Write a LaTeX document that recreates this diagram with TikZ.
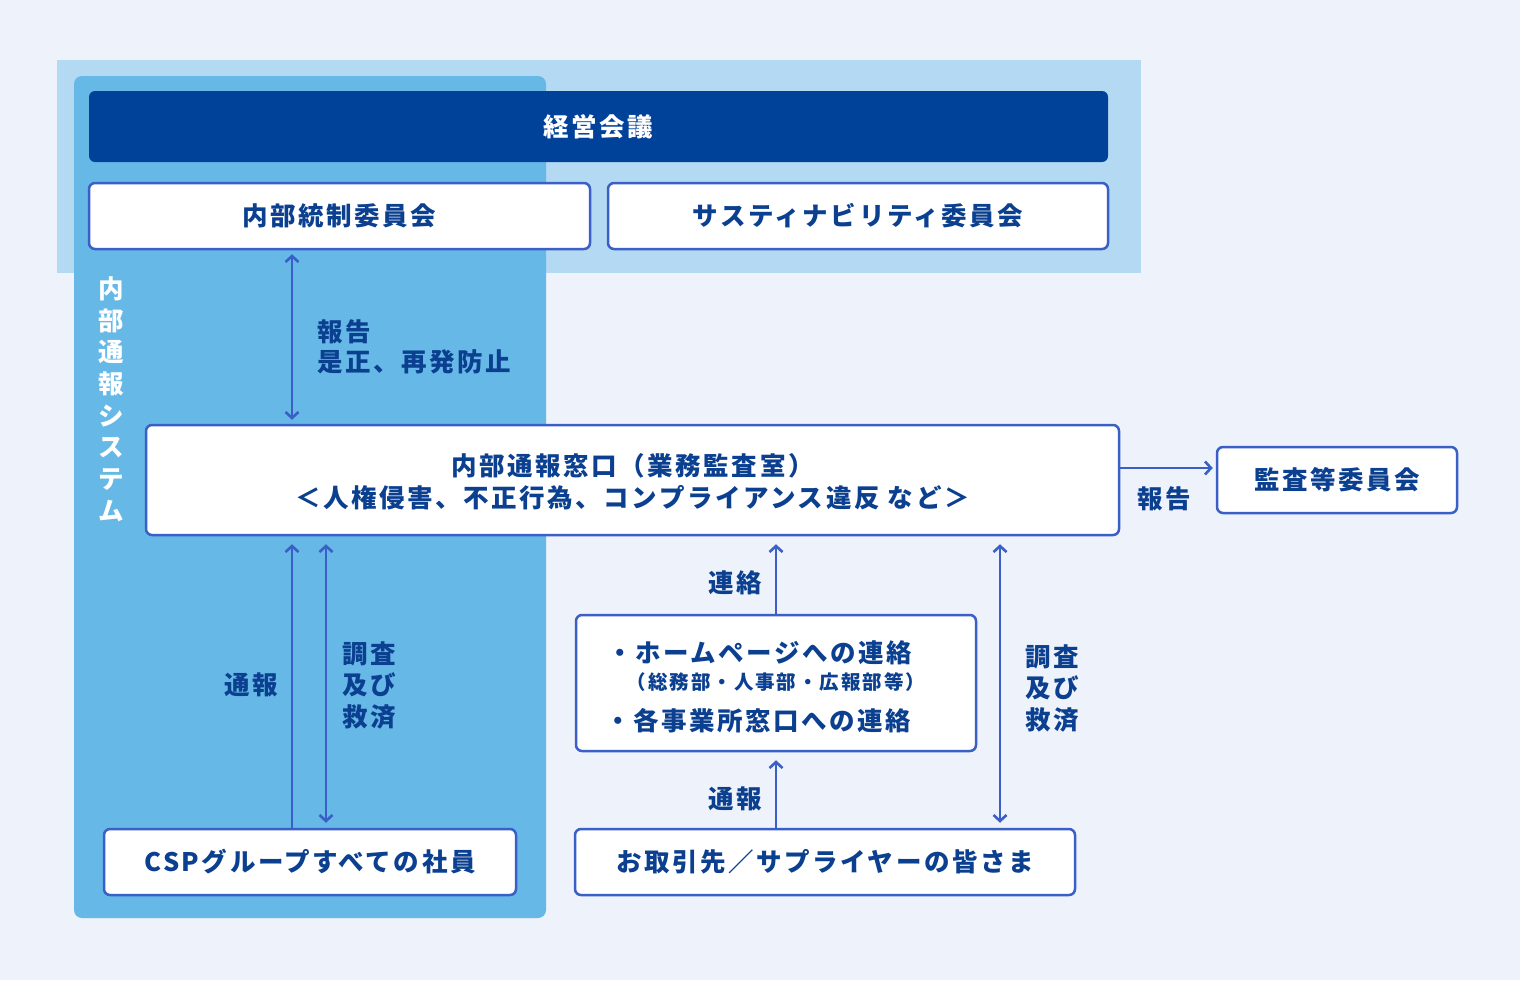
\documentclass[tikz,border=0pt]{standalone}
\usepackage{fontspec}
\setmainfont{Noto Sans CJK JP}[LetterSpace=10]
\usetikzlibrary{arrows.meta}
\definecolor{bgcol}{HTML}{EEF2FA}
\definecolor{bandcol}{HTML}{B4DAF3}
\definecolor{panelcol}{HTML}{66B8E7}
\definecolor{darkcol}{HTML}{00429A}
\definecolor{bordercol}{HTML}{3A5FC6}
\definecolor{txtcol}{HTML}{0B3F8F}
\newcommand{\dn}[1]{\raisebox{-2pt}{#1}}
\tikzset{
  box/.style={draw=bordercol, line width=2.5pt, fill=white, rounded corners=6pt,
    text=txtcol, inner sep=0pt, align=center},
  lbl/.style={text=txtcol, inner sep=0pt, yshift=-2pt},
  arr/.style={draw=bordercol, line width=2.6pt, -{Straight Barb[length=6pt,width=13pt]}},
  darr/.style={draw=bordercol, line width=2.6pt, {Straight Barb[length=6pt,width=13pt]}-{Straight Barb[length=6pt,width=13pt]}},
  big/.style={font=\bfseries\fontsize{25.5}{32}\selectfont},
  small/.style={font=\bfseries\fontsize{19.5}{24}\selectfont}
}
\begin{document}
\begin{tikzpicture}[x=1pt,y=-1pt,big]
\fill[bgcol] (0,0) rectangle (1520,980);
\useasboundingbox (0,0) rectangle (1520,980);
\fill[bandcol] (57,60) rectangle (1141,273);
\fill[panelcol, rounded corners=8pt] (74,76) rectangle (546,918);

\node[box, fill=darkcol, draw=none, text=white, minimum width=1019pt, minimum height=71pt] (keiei) at (598.5,126.5) {\dn{経営会議}};
\node[box, minimum width=501pt, minimum height=66pt] (naibu) at (339.5,216) {\dn{内部統制委員会}};
\node[box, minimum width=500pt, minimum height=66pt] (sasu) at (858,216) {\dn{サスティナビリティ委員会}};
\node[box, minimum width=973pt, minimum height=110pt] (mado) at (632.5,480) {};
\node[lbl, align=center] (madotext) at (632.5,480) {内部通報窓口（業務監査室）\\＜人権侵害、不正行為、コンプライアンス違反 など＞};
\node[box, minimum width=240pt, minimum height=66pt] (kansa) at (1337,480) {\dn{監査等委員会}};
\node[box, minimum width=412pt, minimum height=66pt] (csp) at (310,862) {\dn{CSPグループすべての社員}};
\node[box, minimum width=400pt, minimum height=136pt] (contact) at (776,683) {};
\node[box, minimum width=500pt, minimum height=66pt] (tori) at (825,862) {\dn{お取引先／サプライヤーの皆さま}};

\node[lbl, anchor=west] (c1) at (607,651) {・ホームページへの連絡};
\node[lbl, small] (c2) at (776,680) {（総務部・人事部・広報部等）};
\node[lbl, anchor=west] (c3) at (605,719) {・各事業所窓口への連絡};

\node[text=white, inner sep=0pt, align=center, yshift=-1pt, font=\bfseries\fontsize{25.5}{31.7}\selectfont] (vsys) at (111,398) {内\\部\\通\\報\\シ\\ス\\テ\\ム};

% arrows
\draw[darr] (naibu.south -| 292,0) ++(0,4) -- ([yshift=4pt]mado.north -| 292,0);
\draw[arr] (csp.north -| 292,0) -- ([yshift=-8pt]mado.south -| 292,0);
\draw[darr] ([yshift=-8pt]mado.south -| 326,0) -- ([yshift=5pt]csp.north -| 326,0);
\draw[arr] (contact.north) -- ([yshift=-8pt]mado.south -| 776,0);
\draw[arr] (tori.north -| 776,0) -- ([yshift=-8pt]contact.south);
\draw[darr] ([yshift=-8pt]mado.south -| 1000,0) -- ([yshift=5pt]tori.north -| 1000,0);
\draw[arr] (mado.east |- 0,468) -- ([xshift=-3pt]kansa.west |- 0,468);

% labels
\node[lbl, anchor=west, align=left, font=\bfseries\fontsize{25.5}{30.5}\selectfont] (l1) at (317,345) {報告\\是正、再発防止};
\node[lbl] (l2) at (251,683) {通報};
\node[lbl, anchor=west, align=left, font=\bfseries\fontsize{25.5}{31.5}\selectfont] (l3) at (342,683) {調査\\及び\\救済};
\node[lbl] (l4) at (735,581) {連絡};
\node[lbl] (l5) at (735,797) {通報};
\node[lbl, anchor=west, align=left, font=\bfseries\fontsize{25.5}{31.5}\selectfont] (l6) at (1025,686) {調査\\及び\\救済};
\node[lbl] (l7) at (1164,497) {報告};
\end{tikzpicture}
\end{document}
